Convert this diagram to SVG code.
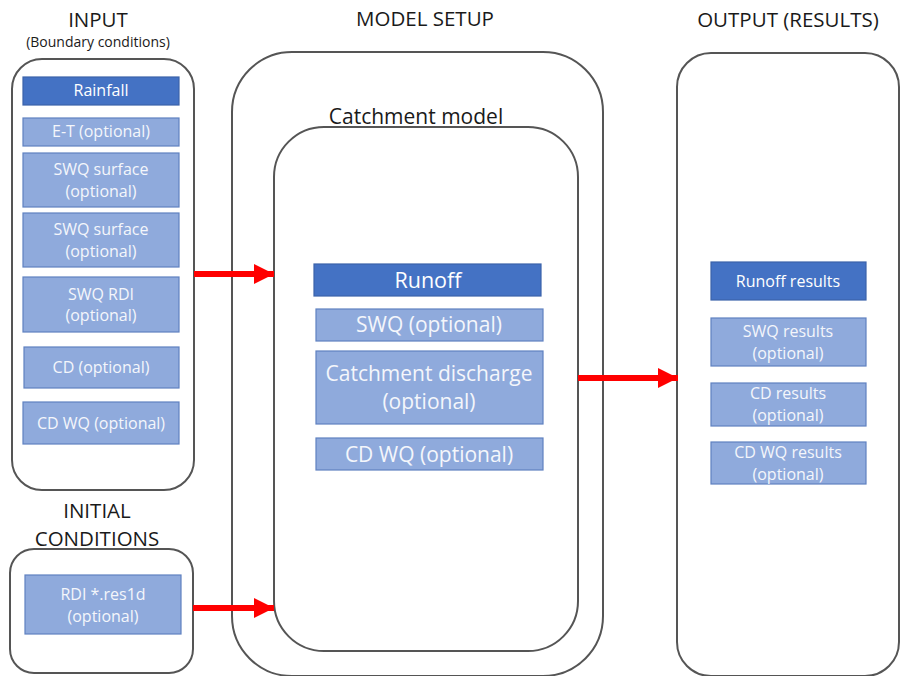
<svg xmlns="http://www.w3.org/2000/svg" width="902" height="676" viewBox="0 0 902 676">
<defs>
<style>
.cont{fill:#fff;stroke:#555;stroke-width:2}
.dark{fill:#4472C4;stroke:#3B63AA;stroke-width:1.2}
.light{fill:#8FAADC;stroke:#5F81C0;stroke-width:1.2}
.t{font-family:"Open Sans","Liberation Sans",sans-serif;text-anchor:middle}
.bt{fill:#fff}
.lt{fill:#F4F6FB}
.h{fill:#1a1a1a;font-size:20.5px}
.s{font-size:16px}
.o{font-size:16px}
.m{font-size:21px}
.arr{stroke:#FF0000;stroke-width:6;fill:none}
</style>
<marker id="ah" viewBox="0 0 10 10" refX="10" refY="5" markerWidth="3.4" markerHeight="3.4" markerUnits="strokeWidth" orient="auto">
<path d="M0,0 L10,5 L0,10 Z" fill="#FF0000"/>
</marker>
</defs>
<rect width="902" height="676" fill="#fff"/>

<g id="input">
<text class="t h" x="98" y="27">INPUT</text>
<text class="t" x="98" y="47" font-size="14" fill="#1a1a1a">(Boundary conditions)</text>
<rect class="cont" x="12" y="59" width="182" height="431" rx="30"/>
</g>
<g id="rainfall"><rect class="dark" x="23" y="77" width="156" height="28"/><text class="t bt s" x="101" y="96">Rainfall</text></g>
<g id="et"><rect class="light" x="23" y="118" width="156" height="28"/><text class="t lt s" x="101" y="137">E-T (optional)</text></g>
<g id="swq-surface-1"><rect class="light" x="23" y="153" width="156" height="54"/><text class="t lt s" x="101" y="175">SWQ surface</text><text class="t lt s" x="101" y="197">(optional)</text></g>
<g id="swq-surface-2"><rect class="light" x="23" y="213" width="156" height="54"/><text class="t lt s" x="101" y="235">SWQ surface</text><text class="t lt s" x="101" y="257">(optional)</text></g>
<g id="swq-rdi"><rect class="light" x="23" y="277" width="156" height="55"/><text class="t lt s" x="101" y="300">SWQ RDI</text><text class="t lt s" x="101" y="321">(optional)</text></g>
<g id="cd"><rect class="light" x="24" y="347" width="155" height="41"/><text class="t lt s" x="101" y="373">CD (optional)</text></g>
<g id="cd-wq"><rect class="light" x="23" y="402" width="156" height="42"/><text class="t lt s" x="101" y="429">CD WQ (optional)</text></g>

<g id="initial">
<text class="t h" x="97" y="518">INITIAL</text>
<text class="t h" x="97" y="546">CONDITIONS</text>
<rect class="cont" x="10" y="549" width="183" height="124" rx="24"/>
</g>
<g id="rdi"><rect class="light" x="25" y="575" width="156" height="59"/><text class="t lt s" x="103" y="600">RDI *.res1d</text><text class="t lt s" x="103" y="622">(optional)</text></g>

<g id="model-setup">
<text class="t h" x="425" y="26">MODEL SETUP</text>
<rect class="cont" x="232" y="52" width="371" height="624" rx="60"/>
</g>
<g id="catchment-model">
<text class="t" x="416" y="124" font-size="21" fill="#1a1a1a">Catchment model</text>
<rect class="cont" x="274" y="127" width="304" height="524" rx="50"/>
</g>
<g id="runoff"><rect class="dark" x="314" y="264" width="227" height="32"/><text class="t bt" x="428" y="288" font-size="21.5">Runoff</text></g>
<g id="swq"><rect class="light" x="316" y="309" width="227" height="32"/><text class="t lt m" x="429" y="332">SWQ (optional)</text></g>
<g id="catchment-discharge"><rect class="light" x="316" y="351" width="227" height="73"/><text class="t lt m" x="429" y="381">Catchment discharge</text><text class="t lt m" x="429" y="409">(optional)</text></g>
<g id="cd-wq-model"><rect class="light" x="316" y="438" width="227" height="32"/><text class="t lt m" x="429" y="462">CD WQ (optional)</text></g>

<g id="output">
<text class="t h" x="788" y="27">OUTPUT (RESULTS)</text>
<rect class="cont" x="677" y="53" width="222" height="623" rx="34"/>
</g>
<g id="runoff-results"><rect class="dark" x="711" y="262" width="155" height="38"/><text class="t bt o" x="788" y="287">Runoff results</text></g>
<g id="swq-results"><rect class="light" x="711" y="318" width="155" height="48"/><text class="t lt o" x="788" y="337">SWQ results</text><text class="t lt o" x="788" y="359">(optional)</text></g>
<g id="cd-results"><rect class="light" x="711" y="383" width="155" height="43"/><text class="t lt o" x="788" y="399">CD results</text><text class="t lt o" x="788" y="421">(optional)</text></g>
<g id="cd-wq-results"><rect class="light" x="711" y="442" width="155" height="42"/><text class="t lt o" x="788" y="458">CD WQ results</text><text class="t lt o" x="788" y="480">(optional)</text></g>

<g id="connectors">
<line class="arr" x1="194" y1="274" x2="274" y2="274" marker-end="url(#ah)"/>
<line class="arr" x1="193" y1="608" x2="274" y2="608" marker-end="url(#ah)"/>
<line class="arr" x1="578" y1="378" x2="678" y2="378" marker-end="url(#ah)"/>
</g>
</svg>
